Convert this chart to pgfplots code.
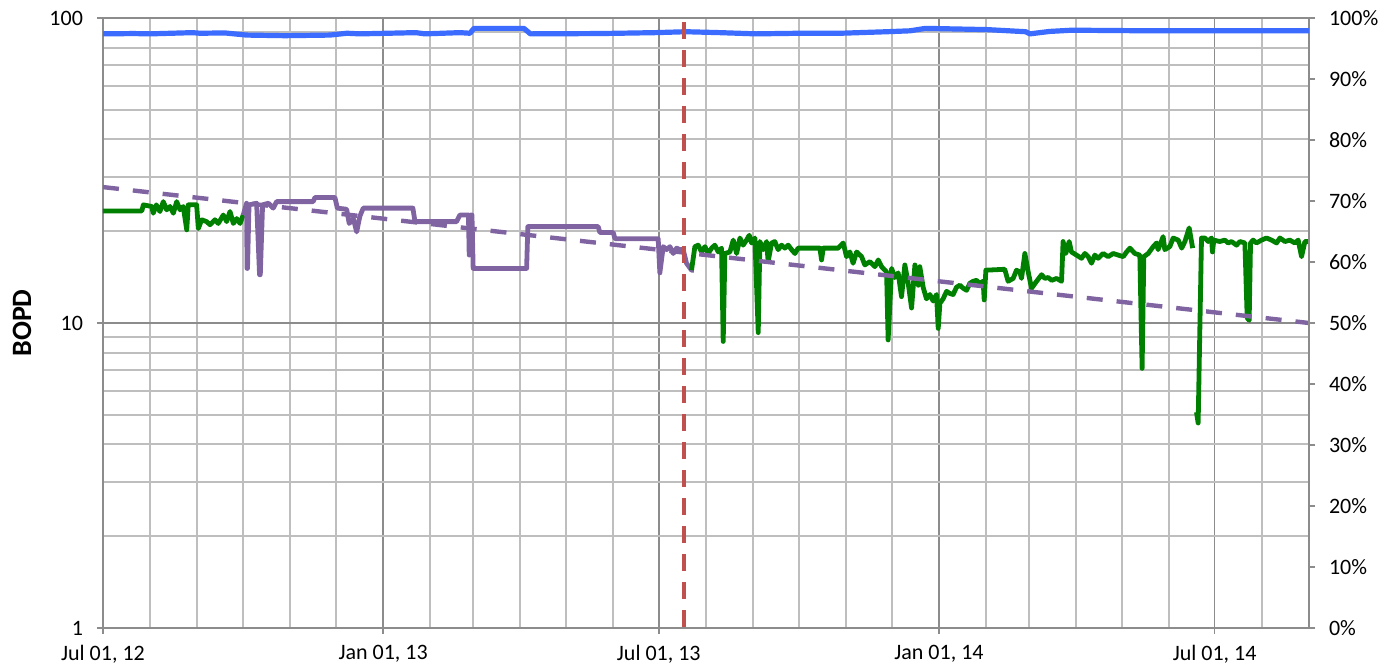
\documentclass[border=0pt]{standalone}
\usepackage{pgfplots}
\pgfplotsset{compat=1.18}
\usepackage{fontspec}
\setmainfont{Carlito}
\definecolor{cgreen}{HTML}{008000}
\definecolor{cpurple}{HTML}{8064A2}
\definecolor{cblue}{HTML}{3B6BFF}
\definecolor{cred}{HTML}{C0504D}
\definecolor{gmaj}{HTML}{8C8C8C}
\definecolor{gmin}{HTML}{BEBEBE}
\begin{document}
\begin{tikzpicture}
\pgfplotsset{
  common/.style={
    scale only axis, width=603pt, height=305pt,
    xmin=0, xmax=792, enlargelimits=false,
    tick align=outside, major tick length=3pt, minor tick length=0pt,
    tick style={color=gmaj, line width=0.75pt},
    axis line style={color=gmaj, line width=0.75pt},
    /pgf/number format/assume math mode=true,
    ticklabel style={font=\fontsize{11}{13}\selectfont},
  }
}
\begin{axis}[common, name=main,
  ymode=log, ymin=1, ymax=100,
  xtick={0,184,365,549,730},
  xticklabels={{Jul 01, 12},{Jan 01, 13},{Jul 01, 13},{Jan 01, 14},{Jul 01, 14}},
  minor xtick={31,62,92,123,153,215,243,274,304,335,396,427,457,488,518,580,608,639,669,700,761},
  ytick={1,10,100}, yticklabels={1,10,100},
  minor ytick={2,3,4,5,6,7,8,9,20,30,40,50,60,70,80,90},
  xtick pos=lower, ytick pos=left,
  grid=both,
  major grid style={color=gmaj, line width=0.75pt},
  minor grid style={color=gmin, line width=1pt},
  xticklabel style={yshift=-2pt},
  yticklabel style={xshift=-3.5pt},
  unbounded coords=jump,
]
% green, first part
\addplot[cgreen, line width=2.4pt, line join=round] coordinates {
(0,23.3) (25.5,23.3) (26.5,24.4) (32,24.1) (33,22.9) (35,24.4) (37.4,23.2) (39.6,25.0)
(41.8,23.5) (44,24.1) (46.2,22.9) (48.4,25.0) (50.6,23.5) (52.7,24.1) (55,20.2) (56,24.4)
(61.5,24.4) (62.6,20.4) (64.8,21.8) (68,21.5) (70.3,21.0) (73.5,21.8) (75.7,21.2) (79,22.6)
(81.2,21.5) (83.4,23.2) (85.6,21.2) (87.8,22.0) (90,21.2) (92.1,22.6)
};
% purple, solid
\addplot[cpurple, line width=2.4pt, line join=round] coordinates {
(92.1,22.6) (94.3,24.7) (94.6,15.1) (94.9,15.1) (95.9,24.4) (100.9,24.7) (102.8,14.4) (103.3,14.4)
(104.8,24.4) (108.6,24.7) (111.8,23.8) (114.0,25.0) (138.0,25.0) (139.2,25.8) (152.3,25.8)
(153.9,23.8) (160.0,23.6) (161.7,21.2) (164.4,22.0) (166.6,19.9) (168.7,22.4) (170.9,23.8)
(203.5,23.8) (204.9,21.5) (232.2,21.5) (234.4,22.6) (240.0,22.6) (240.5,16.7) (241.5,22.6)
(242.3,22.6) (243.1,15.1) (278.2,15.1) (279.0,20.7) (325.2,20.7) (326.3,19.8) (335.1,19.8)
(336.2,18.9) (364.6,18.9) (365.7,14.6) (367.9,17.8) (370.1,17.4) (372.3,17.8) (374.5,16.9)
(376.7,17.6) (378.9,17.4) (381.0,17.4) (383.2,15.7) (386.5,14.9) (388.0,14.9)
};
% green, second part
\addplot[cgreen, line width=2.4pt, line join=round] coordinates {
(386.5,14.9) (388.7,17.8) (390.9,18.0) (393.1,17.1) (395.3,17.8) (397.4,16.9) (399.7,17.6)
(401.8,18.0) (404,17.1) (406.2,17.6) (407.3,8.7) (408.4,16.9) (411.7,17.1) (413.9,18.7)
(416.1,16.9) (418.3,19.0) (420.4,18.0) (422.6,18.7) (424.4,19.4) (425.9,18.3) (428.1,19.0)
(430.3,9.3) (431.4,18.5) (433.6,17.4) (435.8,18.5) (436.8,15.9) (439.1,18.3) (441.2,18.5)
(443.4,17.4) (445.6,18.0) (447.8,17.6) (450,18.0) (452.2,17.4) (454.4,16.9) (456.5,17.6)
(470.8,17.6) (471.9,16.1) (473,17.6) (482.8,17.6) (486.1,18.3) (488.3,16.5) (490.5,17.1)
(492.6,15.7) (494.9,17.1) (498.2,16.5) (500.3,15.5) (503.6,15.9) (506.9,15.3) (509.1,16.1)
(511.3,15.3) (514.6,14.7) (515.6,8.8) (517.9,15.1) (520,14.1) (522.2,14.6) (524.4,12.2)
(526.6,15.5) (528.8,13.5) (531,11.2) (533.2,15.5) (535.4,13.3) (536.4,15.3) (538.6,13.1)
(540.8,12.0) (543,12.4) (545.2,11.8) (547.4,12.4) (548.5,9.6) (549.6,11.6) (551.7,12.0)
(554,12.7) (556.1,12.5) (558.3,12.4) (560.5,13.1) (562.7,13.3) (564.9,13.0) (567.1,12.8)
(569.3,13.5) (571.4,13.7) (573.6,13.8) (575.8,13.5) (578,13.7) (578.7,11.9) (579.8,14.9)
(592.2,15.0) (594.4,13.7) (597.7,14.0) (599.9,14.9) (602.1,14.7) (603.2,14.0) (605.4,16.9)
(607.6,14.7) (609.8,13.0) (613.1,13.7) (616.4,14.4) (618.5,14.0) (620.7,14.1) (623,13.8)
(626.2,14.0) (629.5,13.7) (630.5,18.5) (632.3,16.9) (634.5,18.5) (636,17.1) (639.3,16.7)
(642.6,16.3) (644.8,16.9) (647,16.5) (649.2,15.7) (651.3,16.7) (653.5,16.3) (656.8,16.9)
(660.1,16.5) (663.4,16.9) (666.7,16.7) (670,16.5) (672.2,17.1) (674.4,17.6) (677.6,16.9)
(680.9,16.7) (682.4,7.1) (683.5,16.5) (686.4,16.9) (689.7,17.8) (691.9,18.3) (692.9,17.4)
(696.2,19.2) (697.3,17.4) (700.6,17.8) (702.8,19.0) (706.1,18.7) (708.4,17.6) (710.5,18.5)
(713.3,20.5) (715.6,17.6) (716.8,nan)
(718.1,5.1) (719.2,4.7) (721.4,19.0) (723.6,19.0) (725.8,18.5) (728,19.0) (728.6,17.1)
(729.5,18.7) (733.4,18.5) (736.7,18.7) (738.9,18.3) (741.1,18.5) (744.4,18.0) (746.6,18.5)
(749.9,18.3) (751.4,10.4) (752.7,10.2) (753.6,18.3) (755.3,18.7) (757.5,18.3) (760.8,18.7)
(764.1,19.0) (767.4,18.7) (770.7,18.3) (772.9,19.0) (776.2,18.5) (779.4,18.7) (782.7,18.3)
(784.9,18.7) (787.1,16.5) (789.3,18.5) (792,18.5)
};
% purple dashed trend
\addplot[cpurple, line width=2.2pt, dash pattern=on 8pt off 7pt] coordinates {
(0,27.9) (792,10.0)
};
\end{axis}
\begin{axis}[common,
  ymin=0, ymax=100,
  axis x line=none, axis y line*=right,
  ytick={0,10,...,100},
  yticklabels={0\%,10\%,20\%,30\%,40\%,50\%,60\%,70\%,80\%,90\%,100\%},
  yticklabel style={xshift=3.5pt},
]
% blue, percent
\addplot[cblue, line width=2.6pt, line join=round] coordinates {
(0,97.4) (20,97.45) (31,97.4) (45,97.5) (58.8,97.6) (63.7,97.5) (80,97.55) (94.3,97.2)
(119.5,97.1) (149,97.2) (160.2,97.5) (168.7,97.4) (205.5,97.6) (211.4,97.4) (234.4,97.6)
(241,97.5) (243.6,98.3) (276.4,98.3) (280.7,97.4) (326.3,97.45) (362.8,97.6) (382.8,97.75)
(405.1,97.6) (428.8,97.4) (457.6,97.5) (484.4,97.5) (514.8,97.75) (530,97.9) (540.1,98.3)
(580.4,98.1) (606,97.75) (608.7,97.4) (621.8,97.8) (636.3,98.0) (687.5,97.9) (788,97.9) (792,97.9)
};
% red dashed vertical line
\addplot[cred, line width=2pt, dash pattern=on 8.5pt off 5.5pt] coordinates {
(381.5,99.3) (381.5,0)
};
\end{axis}
\node[rotate=90, font=\bfseries\fontsize{14}{16}\selectfont] at ([xshift=-40.5pt]main.west) {BOPD};
\pgfresetboundingbox
\path ([xshift=-51.5pt,yshift=-21.5pt]main.south west) rectangle ([xshift=37.5pt,yshift=9pt]main.north east);
\end{tikzpicture}
\end{document}
